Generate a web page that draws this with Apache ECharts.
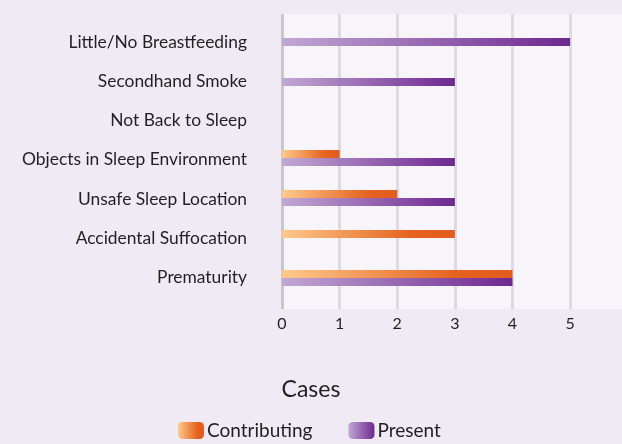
<!DOCTYPE html>
<html>
<head>
<meta charset="utf-8">
<script src="https://cdn.jsdelivr.net/npm/echarts@6/dist/echarts.min.js"></script>
<style>
  html, body { margin: 0; padding: 0; background: #efeaf4; }
  #chart { width: 622px; height: 444px; }
</style>
</head>
<body>
<div id="chart"></div>
<script>
// Risk factors, listed bottom to top along the category axis
const categories = [
  'Prematurity',
  'Accidental Suffocation',
  'Unsafe Sleep Location',
  'Objects in Sleep Environment',
  'Not Back to Sleep',
  'Secondhand Smoke',
  'Little/No Breastfeeding'
];
const contributing = [4, 3, 2, 1, 0, 0, 0];
const present = [4, 0, 3, 3, 0, 3, 5];
const seriesNames = ['Contributing', 'Present'];
const axisTitle = 'Cases';

const FONT = 'Lato, sans-serif';
const TEXT = '#231f20';

const orangeFill = new echarts.graphic.LinearGradient(0, 0, 1, 0, [
  { offset: 0, color: '#fdca8c' },
  { offset: 0.75, color: '#e5621f' },
  { offset: 1, color: '#e35c1e' }
]);
const purpleFill = new echarts.graphic.LinearGradient(0, 0, 1, 0, [
  { offset: 0, color: '#c1a8d4' },
  { offset: 1, color: '#6e2890' }
]);

const chart = echarts.init(document.getElementById('chart'), null, { renderer: 'canvas' });

const valueAxisBase = { type: 'value', min: 0, max: 5.9, interval: 1 };

chart.setOption({
  backgroundColor: '#efeaf4',
  animation: false,
  title: {
    text: axisTitle,
    left: 'center',
    top: 378,
    padding: 0,
    textStyle: { fontFamily: FONT, fontSize: 23, fontWeight: 'normal', color: TEXT }
  },
  legend: {
    data: seriesNames,
    left: 178,
    top: 421,
    padding: 0,
    itemWidth: 26,
    itemHeight: 17,
    itemGap: 36,
    textStyle: { fontFamily: FONT, fontSize: 19, color: TEXT, padding: [0, 0, 0, -2] }
  },
  grid: [
    // plot panel with the vertical grid lines
    { left: 282, right: 0, top: 14, bottom: 135, show: true, backgroundColor: '#f7f5fa', borderWidth: 0 },
    // bars
    { left: 282, right: 0, top: 18, bottom: 146 },
    // category labels
    { left: 282, right: 0, top: 22.5, bottom: 147 }
  ],
  xAxis: [
    Object.assign({}, valueAxisBase, {
      gridIndex: 0,
      axisLine: { show: false },
      axisTick: { show: false },
      splitLine: {
        show: true,
        showMaxLine: false,
        lineStyle: { color: ['#c9c7cd', '#dcdae0', '#dcdae0', '#dcdae0', '#dcdae0', '#dcdae0', '#dcdae0'], width: 3 }
      },
      axisLabel: {
        showMaxLabel: false,
        margin: 7,
        fontFamily: FONT, fontSize: 16, color: TEXT
      }
    }),
    Object.assign({}, valueAxisBase, { gridIndex: 1, show: false, splitLine: { show: false } }),
    Object.assign({}, valueAxisBase, { gridIndex: 2, show: false, splitLine: { show: false } })
  ],
  yAxis: [
    { type: 'category', gridIndex: 0, data: categories, show: false },
    { type: 'category', gridIndex: 1, data: categories, show: false },
    {
      type: 'category',
      gridIndex: 2,
      data: categories,
      axisLine: { show: false },
      axisTick: { show: false },
      splitLine: { show: false },
      axisLabel: {
        margin: 35,
        fontFamily: FONT, fontSize: 17.4, color: TEXT
      }
    }
  ],
  series: [
    {
      name: 'Contributing', type: 'bar', xAxisIndex: 1, yAxisIndex: 1,
      data: contributing, barWidth: 8, barGap: '0%',
      itemStyle: { color: orangeFill }
    },
    {
      name: 'Present', type: 'bar', xAxisIndex: 1, yAxisIndex: 1,
      data: present, barWidth: 8, barGap: '0%',
      itemStyle: { color: purpleFill }
    }
  ]
});
</script>
</body>
</html>
